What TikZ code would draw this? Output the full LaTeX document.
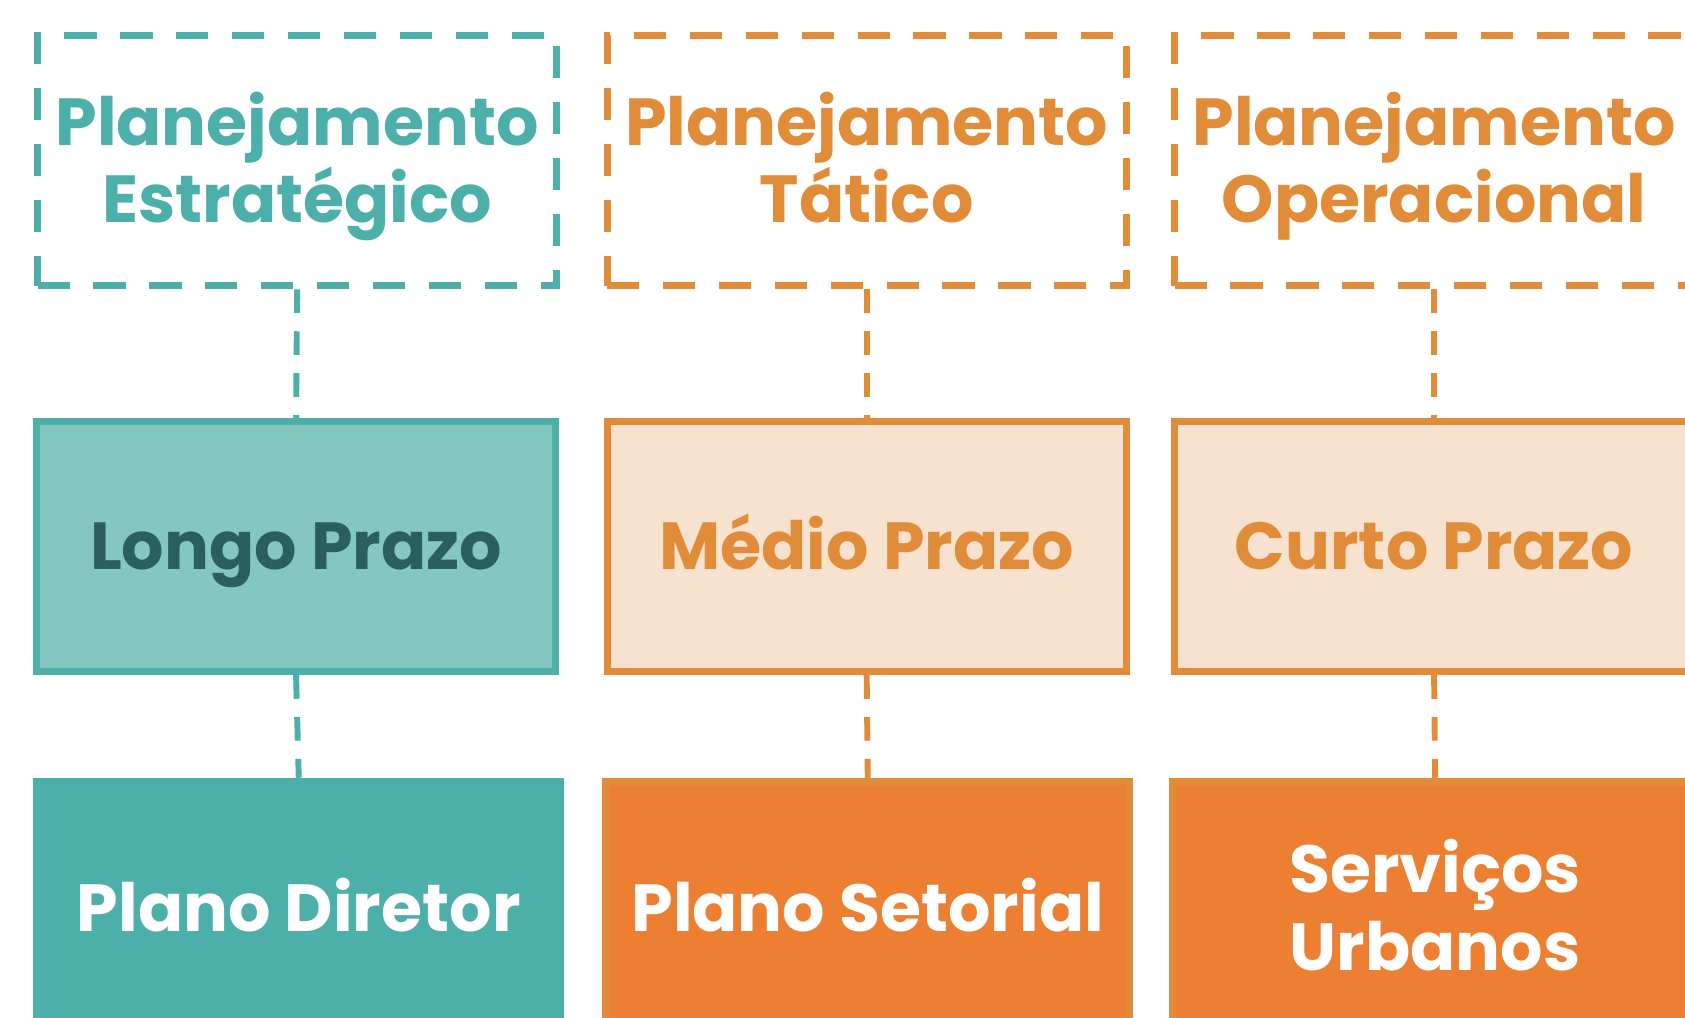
\documentclass[tikz,border=0pt]{standalone}
\usepackage{fontspec}
\setmainfont{Poppins}[BoldFont={* Bold}]
\definecolor{teal}{HTML}{4DAFA9}
\definecolor{teallight}{HTML}{84C7C1}
\definecolor{tealdark}{HTML}{2A5F5B}
\definecolor{orng}{HTML}{E08C38}
\definecolor{orngl}{HTML}{F6E2CF}
\definecolor{orngd}{HTML}{ED7F32}
\begin{document}
\begin{tikzpicture}[x=1pt,y=-1pt,
  lbl/.style={font=\fontsize{62}{72}\selectfont\bfseries, align=center, text depth=0pt},
  one/.style={text height=43.4pt},
  two/.style={text height=115.4pt},
  dbox/.style={draw=#1, line width=6.5pt, dash pattern=on 30pt off 22pt, minimum width=483pt, minimum height=233pt, inner sep=0pt, lbl, two, text=#1},
  mbox/.style={line width=6.5pt, minimum width=483pt, minimum height=233pt, inner sep=0pt, lbl, one},
  bbox/.style={line width=6.5pt, minimum width=488pt, minimum height=236pt, inner sep=0pt, lbl, one, text=white},
  conn/.style={draw=#1, line width=5.5pt, dash pattern=on 22pt off 17pt}
]
\useasboundingbox (0,0) rectangle (1568,947);
\clip (0,0) rectangle (1568,947);
% column 1
\node[dbox=teal] (s1) at (276.5,149.5) {Planejamento\\Estratégico};
\node[mbox, draw=teal, fill=teallight, text=tealdark] (m1) at (275.5,508.5) {Longo Prazo};
\node[bbox, draw=teal, fill=teal] (b1) at (278,845) {Plano Diretor};
% column 2
\node[dbox=orng] (s2) at (806.5,149.5) {Planejamento\\Tático};
\node[mbox, draw=orng, fill=orngl, text=orng] (m2) at (806.5,508.5) {Médio Prazo};
\node[bbox, draw=orng, fill=orngd] (b2) at (807.5,845) {Plano Setorial};
% column 3
\node[dbox=orng] (s3) at (1334.5,149.5) {Planejamento\\Operacional};
\node[mbox, draw=orng, fill=orngl, text=orng] (m3) at (1334.5,508.5) {Curto Prazo};
\node[bbox, draw=orng, fill=orngd, two] (b3) at (1335.5,845) {Serviços\\Urbanos};
% connectors
\draw[conn=teal] (s1.south) -- (m1.north);
\draw[conn=teal] (m1.south) -- (b1.north);
\draw[conn=orng] (s2.south) -- (m2.north);
\draw[conn=orng] (m2.south) -- (b2.north);
\draw[conn=orng] (s3.south) -- (m3.north);
\draw[conn=orng] (m3.south) -- (b3.north);
\end{tikzpicture}
\end{document}
